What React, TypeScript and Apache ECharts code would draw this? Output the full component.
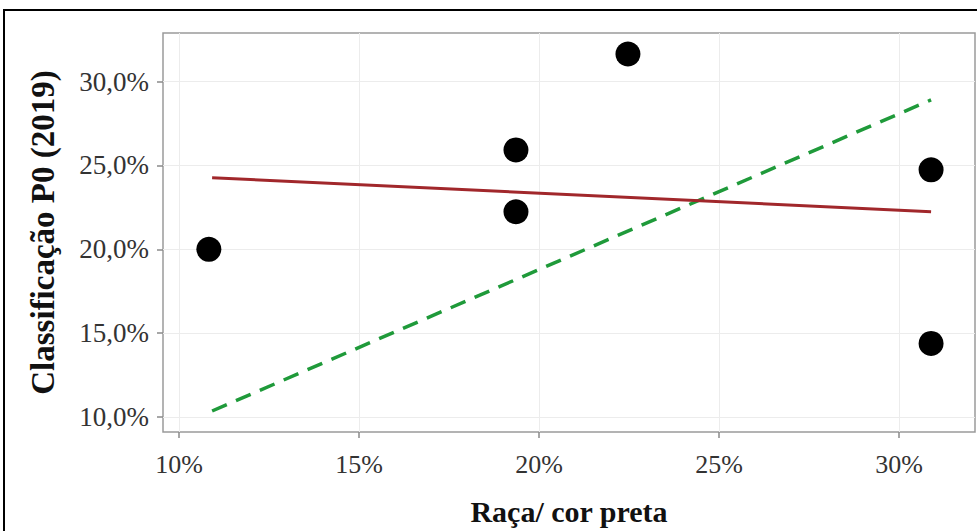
import React, { useEffect, useRef } from "react";
import * as echarts from "echarts";

const xTicks = [10, 15, 20, 25, 30];
const yTicks = [10, 15, 20, 25, 30];
const pointsX = [10.83, 19.36, 19.36, 22.47, 30.89, 30.89];
const pointsY = [20.0, 25.93, 22.24, 31.65, 24.74, 14.39];
const redLineX = [10.92, 30.89];
const redLineY = [24.27, 22.24];
const greenLineX = [10.92, 30.89];
const greenLineY = [10.36, 28.91];

const serif = "Liberation Serif";

export default function App() {
  const ref = useRef<HTMLDivElement>(null);
  useEffect(() => {
    if (!ref.current) return;
    const chart = echarts.init(ref.current, undefined, { renderer: "svg" });
    chart.setOption({
      animation: false,
      backgroundColor: "#ffffff",
      textStyle: { fontFamily: serif },
      grid: { left: 163, top: 33, right: 2, bottom: 98, show: true, borderColor: "#9a9a9a", borderWidth: 1.5 },
      graphic: [
        {
          type: "rect",
          shape: { x: 4, y: 10, width: 1000, height: 600 },
          style: { fill: "none", stroke: "#000000", lineWidth: 2 },
          silent: true,
          z: 100,
        },
      ],
      xAxis: {
        type: "value",
        min: 9.556,
        max: 32.11,
        name: "Raça/ cor preta",
        nameLocation: "middle",
        nameGap: 64,
        nameTextStyle: { fontFamily: serif, fontWeight: "bold", fontSize: 30, color: "#111" },
        axisLine: { show: false },
        axisTick: { show: true, length: 6, customValues: xTicks, lineStyle: { color: "#8a8a8a", width: 1.5 } },
        axisLabel: {
          fontFamily: serif,
          fontSize: 26,
          color: "#333333",
          margin: 19,
          customValues: xTicks,
          formatter: (v: number) => `${Math.round(v)}%`,
        },
        splitLine: { show: true, lineStyle: { color: "#ececec", width: 1 } },
      },
      yAxis: {
        type: "value",
        min: 9.107,
        max: 32.9,
        name: "Classificação P0 (2019)",
        nameLocation: "middle",
        nameGap: 104,
        nameTextStyle: { fontFamily: serif, fontWeight: "bold", fontSize: 33, color: "#111" },
        axisLine: { show: false },
        axisTick: { show: true, length: 6, customValues: yTicks, lineStyle: { color: "#8a8a8a", width: 1.5 } },
        axisLabel: {
          fontFamily: serif,
          fontSize: 27,
          color: "#333333",
          margin: 14,
          customValues: yTicks,
          formatter: (v: number) => `${v.toFixed(1).replace(".", ",")}%`,
        },
        splitLine: { show: true, lineStyle: { color: "#ececec", width: 1 } },
      },
      series: [
        {
          type: "line",
          data: greenLineX.map((x, i) => [x, greenLineY[i]]),
          symbol: "none",
          lineStyle: { color: "#1f9a3a", width: 3.5, type: [16, 10] },
          z: 3,
        },
        {
          type: "line",
          data: redLineX.map((x, i) => [x, redLineY[i]]),
          symbol: "none",
          lineStyle: { color: "#a1272b", width: 3 },
          z: 3,
        },
        {
          type: "scatter",
          data: pointsX.map((x, i) => [x, pointsY[i]]),
          symbol: "circle",
          symbolSize: 25,
          itemStyle: { color: "#000000", opacity: 1 },
          z: 4,
        },
      ],
    });
    return () => chart.dispose();
  }, []);
  return (
    <div
      ref={ref}
      style={{ position: "fixed", left: 0, top: 0, width: 977, height: 531 }}
    />
  );
}
